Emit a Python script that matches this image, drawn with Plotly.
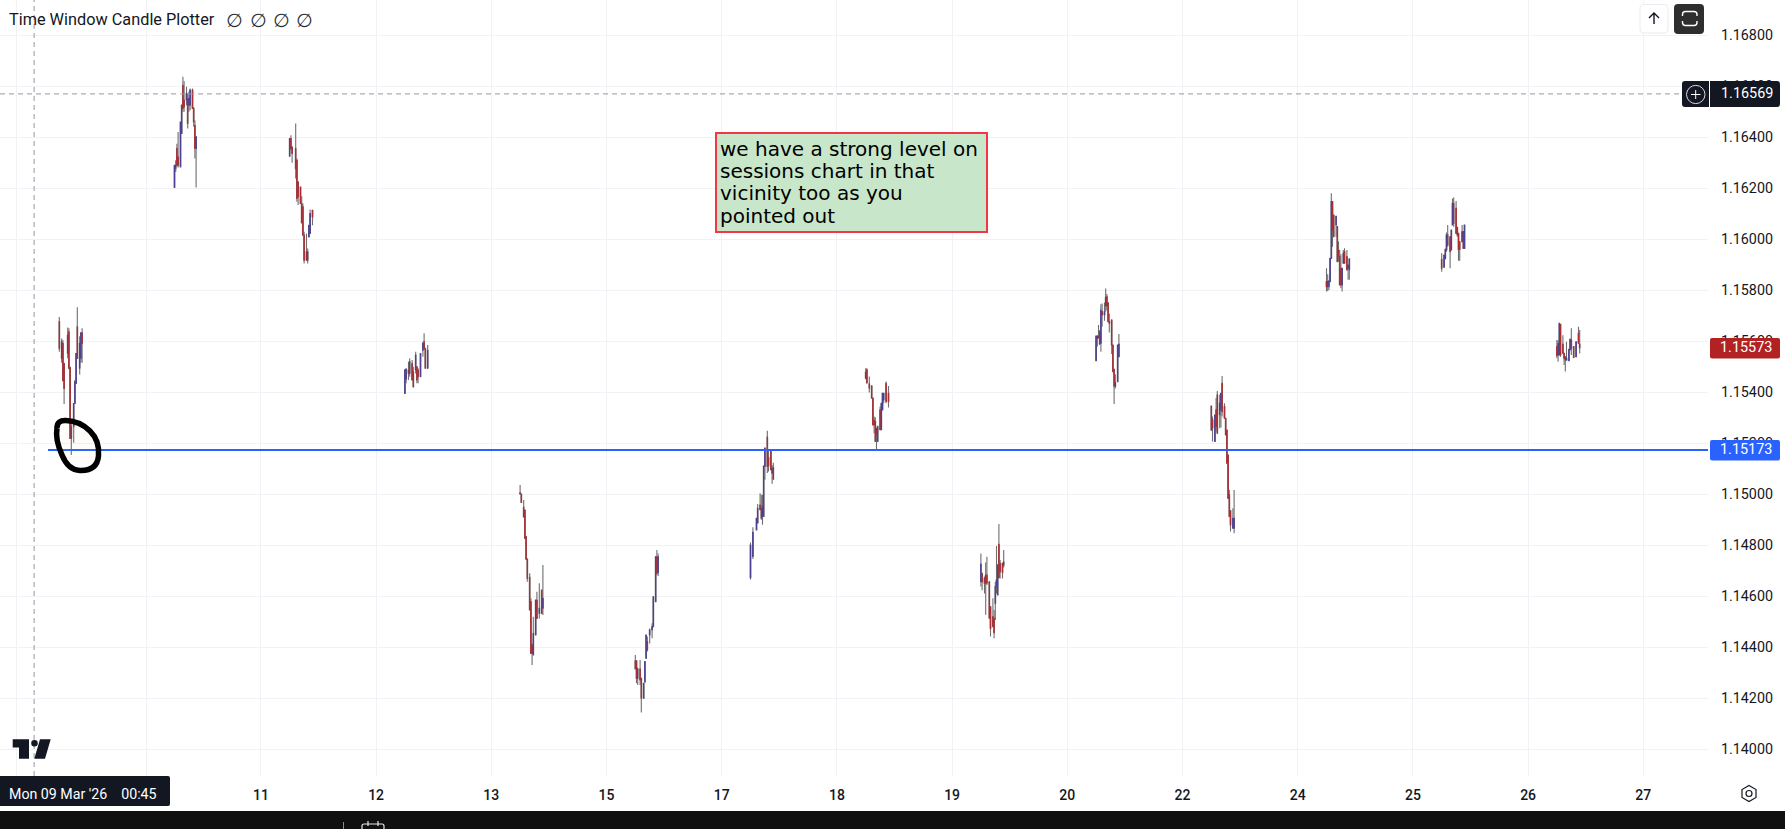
import plotly.graph_objects as go

# ---- session data (one list per field, per session); t = 15-minute bar inside the window
s01_t = [0, 2, 3, 4, 7, 8, 9, 10, 12, 13, 14, 15, 17, 18, 19]
s01_o = [1.15676, 1.15532, 1.15591, 1.15512, 1.15551, 1.15636, 1.15497, 1.15218, 1.15264, 1.15355, 1.15434, 1.15656, 1.15493, 1.15532, 1.15632]
s01_h = [1.15694, 1.15610, 1.15604, 1.15515, 1.15653, 1.15650, 1.15497, 1.15277, 1.15355, 1.15447, 1.15554, 1.15732, 1.15619, 1.15632, 1.15650]
s01_l = [1.15558, 1.15515, 1.15444, 1.15353, 1.15532, 1.15489, 1.15218, 1.15153, 1.15201, 1.15355, 1.15434, 1.15532, 1.15469, 1.15515, 1.15515]
s01_c = [1.15571, 1.15597, 1.15444, 1.15414, 1.15623, 1.15493, 1.15218, 1.15264, 1.15355, 1.15440, 1.15551, 1.15532, 1.15591, 1.15632, 1.15591]

s02_t = [0, 1, 2, 3, 5, 6, 7, 8, 10, 11, 12, 13, 15, 16, 17, 18]
s02_o = [1.16202, 1.16276, 1.16355, 1.16322, 1.16283, 1.16414, 1.16603, 1.16544, 1.16544, 1.16551, 1.16525, 1.16525, 1.16584, 1.16512, 1.16446, 1.16355]
s02_h = [1.16289, 1.16309, 1.16374, 1.16420, 1.16459, 1.16525, 1.16636, 1.16619, 1.16597, 1.16571, 1.16577, 1.16590, 1.16590, 1.16518, 1.16466, 1.16401]
s02_l = [1.16202, 1.16263, 1.16283, 1.16280, 1.16283, 1.16414, 1.16499, 1.16499, 1.16525, 1.16433, 1.16499, 1.16505, 1.16512, 1.16440, 1.16316, 1.16202]
s02_c = [1.16289, 1.16289, 1.16289, 1.16289, 1.16459, 1.16525, 1.16512, 1.16518, 1.16571, 1.16453, 1.16551, 1.16584, 1.16512, 1.16459, 1.16355, 1.16401]

s03_t = [0, 1, 2, 5, 6, 7, 9, 10, 11, 12, 14, 15, 16, 17, 19]
s03_o = [1.16325, 1.16394, 1.16361, 1.16355, 1.16309, 1.16224, 1.16204, 1.16139, 1.16126, 1.16015, 1.15950, 1.15917, 1.16008, 1.16022, 1.16113]
s03_h = [1.16394, 1.16407, 1.16361, 1.16453, 1.16316, 1.16224, 1.16204, 1.16168, 1.16139, 1.16028, 1.16022, 1.15963, 1.16054, 1.16116, 1.16113]
s03_l = [1.16325, 1.16348, 1.16299, 1.16237, 1.16146, 1.16133, 1.16139, 1.16063, 1.16015, 1.15904, 1.15917, 1.15904, 1.16008, 1.16022, 1.16054]
s03_c = [1.16394, 1.16355, 1.16335, 1.16276, 1.16159, 1.16165, 1.16139, 1.16063, 1.16015, 1.15917, 1.15917, 1.15950, 1.16054, 1.16100, 1.16086]

s04_t = [0, 1, 3, 4, 6, 7, 9, 10, 11, 13, 15, 16, 17, 19]
s04_o = [1.15394, 1.15450, 1.15486, 1.15473, 1.15512, 1.15479, 1.15486, 1.15499, 1.15486, 1.15460, 1.15564, 1.15597, 1.15571, 1.15493]
s04_h = [1.15490, 1.15493, 1.15519, 1.15532, 1.15525, 1.15499, 1.15558, 1.15499, 1.15493, 1.15551, 1.15597, 1.15630, 1.15571, 1.15584]
s04_l = [1.15394, 1.15434, 1.15447, 1.15460, 1.15447, 1.15420, 1.15473, 1.15434, 1.15434, 1.15460, 1.15538, 1.15564, 1.15493, 1.15493]
s04_c = [1.15486, 1.15490, 1.15473, 1.15519, 1.15447, 1.15420, 1.15545, 1.15447, 1.15460, 1.15551, 1.15590, 1.15571, 1.15493, 1.15564]

s05_t = [0, 1, 3, 4, 5, 6, 8, 9, 10, 11, 13, 14, 16, 18, 19]
s05_o = [1.15005, 1.15000, 1.14948, 1.14937, 1.14833, 1.14744, 1.14673, 1.14578, 1.14408, 1.14369, 1.14447, 1.14584, 1.14532, 1.14623, 1.14552]
s05_h = [1.15035, 1.15000, 1.14976, 1.14937, 1.14833, 1.14748, 1.14689, 1.14591, 1.14414, 1.14519, 1.14584, 1.14617, 1.14650, 1.14623, 1.14722]
s05_l = [1.15000, 1.14967, 1.14907, 1.14826, 1.14744, 1.14656, 1.14545, 1.14375, 1.14329, 1.14369, 1.14447, 1.14512, 1.14512, 1.14532, 1.14525]
s05_c = [1.15000, 1.14967, 1.14911, 1.14826, 1.14744, 1.14669, 1.14545, 1.14375, 1.14375, 1.14454, 1.14584, 1.14512, 1.14552, 1.14532, 1.14591]

s06_t = [0, 1, 2, 4, 5, 7, 8, 9, 10, 12, 14, 15, 17, 18, 19]
s06_o = [1.14346, 1.14346, 1.14277, 1.14314, 1.14277, 1.14199, 1.14264, 1.14356, 1.14421, 1.14447, 1.14467, 1.14480, 1.14578, 1.14754, 1.14692]
s06_h = [1.14369, 1.14346, 1.14320, 1.14349, 1.14277, 1.14258, 1.14343, 1.14447, 1.14441, 1.14473, 1.14493, 1.14597, 1.14754, 1.14780, 1.14767]
s06_l = [1.14314, 1.14258, 1.14251, 1.14251, 1.14143, 1.14199, 1.14258, 1.14356, 1.14382, 1.14414, 1.14434, 1.14480, 1.14578, 1.14682, 1.14678]
s06_c = [1.14314, 1.14277, 1.14314, 1.14271, 1.14199, 1.14258, 1.14343, 1.14447, 1.14388, 1.14467, 1.14480, 1.14597, 1.14754, 1.14689, 1.14754]

s07_t = [0, 2, 5, 6, 8, 9, 10, 11, 12, 14, 15, 17, 18, 19]
s07_o = [1.14672, 1.14755, 1.14859, 1.14886, 1.14957, 1.14944, 1.14912, 1.14912, 1.15108, 1.15223, 1.15143, 1.15167, 1.15082, 1.15105]
s07_h = [1.14810, 1.14870, 1.14905, 1.14961, 1.15003, 1.14997, 1.14997, 1.15110, 1.15180, 1.15248, 1.15173, 1.15167, 1.15114, 1.15123]
s07_l = [1.14665, 1.14745, 1.14859, 1.14886, 1.14938, 1.14899, 1.14879, 1.14912, 1.15056, 1.15082, 1.15088, 1.15095, 1.15040, 1.15058]
s07_c = [1.14800, 1.14850, 1.14905, 1.14944, 1.14938, 1.14905, 1.14951, 1.15110, 1.15180, 1.15108, 1.15110, 1.15095, 1.15101, 1.15058]

s08_t = [0, 1, 3, 5, 6, 7, 8, 9, 10, 12, 13, 14, 15, 17, 19]
s08_o = [1.15454, 1.15487, 1.15432, 1.15424, 1.15376, 1.15290, 1.15284, 1.15258, 1.15206, 1.15330, 1.15252, 1.15330, 1.15369, 1.15434, 1.15395]
s08_h = [1.15493, 1.15493, 1.15461, 1.15424, 1.15376, 1.15304, 1.15301, 1.15258, 1.15265, 1.15343, 1.15356, 1.15395, 1.15395, 1.15441, 1.15424]
s08_l = [1.15450, 1.15435, 1.15398, 1.15376, 1.15271, 1.15238, 1.15206, 1.15176, 1.15206, 1.15252, 1.15252, 1.15330, 1.15356, 1.15356, 1.15339]
s08_c = [1.15478, 1.15435, 1.15415, 1.15376, 1.15271, 1.15271, 1.15206, 1.15234, 1.15265, 1.15252, 1.15356, 1.15395, 1.15395, 1.15363, 1.15363]

s09_t = [0, 1, 3, 4, 5, 7, 8, 10, 11, 12, 13, 14, 15, 16, 18, 19]
s09_o = [1.14656, 1.14689, 1.14669, 1.14682, 1.14682, 1.14656, 1.14558, 1.14519, 1.14513, 1.14571, 1.14637, 1.14604, 1.14803, 1.14728, 1.14728, 1.14721]
s09_h = [1.14767, 1.14689, 1.14676, 1.14731, 1.14754, 1.14656, 1.14558, 1.14591, 1.14545, 1.14656, 1.14796, 1.14722, 1.14882, 1.14741, 1.14728, 1.14780]
s09_l = [1.14637, 1.14623, 1.14610, 1.14526, 1.14643, 1.14513, 1.14441, 1.14480, 1.14434, 1.14506, 1.14610, 1.14604, 1.14672, 1.14669, 1.14669, 1.14712]
s09_c = [1.14725, 1.14656, 1.14650, 1.14650, 1.14650, 1.14513, 1.14473, 1.14480, 1.14456, 1.14637, 1.14663, 1.14722, 1.14672, 1.14695, 1.14692, 1.14734]

s10_t = [0, 1, 2, 3, 4, 5, 7, 8, 9, 10, 11, 13, 14, 15, 16, 18, 19]
s10_o = [1.15523, 1.15610, 1.15619, 1.15636, 1.15591, 1.15715, 1.15702, 1.15737, 1.15774, 1.15750, 1.15676, 1.15682, 1.15584, 1.15489, 1.15423, 1.15440, 1.15538]
s10_h = [1.15621, 1.15623, 1.15663, 1.15643, 1.15744, 1.15747, 1.15751, 1.15806, 1.15784, 1.15750, 1.15708, 1.15685, 1.15584, 1.15489, 1.15470, 1.15584, 1.15627]
s10_l = [1.15523, 1.15578, 1.15610, 1.15584, 1.15558, 1.15656, 1.15679, 1.15715, 1.15721, 1.15676, 1.15633, 1.15549, 1.15480, 1.15353, 1.15414, 1.15440, 1.15538]
s10_c = [1.15619, 1.15619, 1.15612, 1.15588, 1.15721, 1.15702, 1.15715, 1.15771, 1.15737, 1.15676, 1.15669, 1.15584, 1.15480, 1.15423, 1.15437, 1.15584, 1.15588]

s11_t = [0, 1, 3, 4, 5, 7, 8, 9, 11, 12, 13, 14, 15, 16, 18, 19]
s11_o = [1.15345, 1.15291, 1.15206, 1.15330, 1.15389, 1.15310, 1.15330, 1.15434, 1.15343, 1.15297, 1.15251, 1.15153, 1.14997, 1.14934, 1.14866, 1.14866]
s11_h = [1.15345, 1.15304, 1.15310, 1.15376, 1.15404, 1.15389, 1.15395, 1.15463, 1.15356, 1.15297, 1.15251, 1.15153, 1.15016, 1.14934, 1.14944, 1.15016]
s11_l = [1.15247, 1.15206, 1.15206, 1.15245, 1.15238, 1.15258, 1.15261, 1.15304, 1.15297, 1.15232, 1.15121, 1.14983, 1.14912, 1.14853, 1.14866, 1.14846]
s11_c = [1.15251, 1.15258, 1.15310, 1.15264, 1.15238, 1.15356, 1.15395, 1.15323, 1.15297, 1.15232, 1.15121, 1.14983, 1.14912, 1.14879, 1.14905, 1.14905]

s12_t = [0, 1, 2, 3, 4, 5, 6, 8, 9, 10, 11, 12, 13, 14, 15, 17, 18, 19]
s12_o = [1.15833, 1.15813, 1.15813, 1.15833, 1.15924, 1.16147, 1.16094, 1.16055, 1.16049, 1.15957, 1.15931, 1.15885, 1.15820, 1.15905, 1.15951, 1.15931, 1.15885, 1.15879]
s12_h = [1.15885, 1.15862, 1.15839, 1.15924, 1.16179, 1.16147, 1.16094, 1.16092, 1.16049, 1.15990, 1.15957, 1.15940, 1.15885, 1.15957, 1.15964, 1.15957, 1.15898, 1.15922]
s12_l = [1.15794, 1.15796, 1.15800, 1.15833, 1.15924, 1.15970, 1.16009, 1.16009, 1.15911, 1.15911, 1.15820, 1.15807, 1.15794, 1.15905, 1.15905, 1.15879, 1.15840, 1.15840]
s12_c = [1.15813, 1.15833, 1.15835, 1.15924, 1.16147, 1.16036, 1.16009, 1.16088, 1.15911, 1.15931, 1.15820, 1.15820, 1.15885, 1.15944, 1.15905, 1.15879, 1.15898, 1.15922]

s13_t = [0, 2, 3, 4, 5, 7, 8, 9, 10, 12, 13, 14, 15, 17, 18, 19]
s13_o = [1.15920, 1.15889, 1.15924, 1.15957, 1.16016, 1.16009, 1.15957, 1.16055, 1.16140, 1.16120, 1.16046, 1.16022, 1.15989, 1.15989, 1.16029, 1.15963]
s13_h = [1.15944, 1.15937, 1.15963, 1.16025, 1.16055, 1.16009, 1.16035, 1.16159, 1.16163, 1.16149, 1.16048, 1.16022, 1.15989, 1.16055, 1.16029, 1.16055]
s13_l = [1.15872, 1.15889, 1.15920, 1.15950, 1.15970, 1.15885, 1.15957, 1.16055, 1.16048, 1.16022, 1.16009, 1.15915, 1.15915, 1.15989, 1.15963, 1.15963]
s13_c = [1.15885, 1.15937, 1.15959, 1.16016, 1.15976, 1.15950, 1.16035, 1.16140, 1.16061, 1.16022, 1.16016, 1.15959, 1.15959, 1.16029, 1.15963, 1.16055]

s14_t = [0, 1, 2, 3, 5, 6, 7, 8, 10, 11, 12, 14, 16, 18, 19]
s14_o = [1.15578, 1.15545, 1.15545, 1.15665, 1.15588, 1.15552, 1.15538, 1.15525, 1.15523, 1.15565, 1.15604, 1.15578, 1.15538, 1.15630, 1.15588]
s14_h = [1.15604, 1.15604, 1.15669, 1.15665, 1.15623, 1.15552, 1.15538, 1.15597, 1.15567, 1.15610, 1.15650, 1.15578, 1.15597, 1.15656, 1.15643]
s14_l = [1.15532, 1.15519, 1.15545, 1.15538, 1.15552, 1.15506, 1.15480, 1.15523, 1.15523, 1.15565, 1.15545, 1.15535, 1.15538, 1.15591, 1.15551]
s14_c = [1.15542, 1.15591, 1.15669, 1.15545, 1.15552, 1.15532, 1.15525, 1.15532, 1.15567, 1.15607, 1.15571, 1.15535, 1.15597, 1.15591, 1.15573]

BARS_PER_DAY = 96
x_tick_bars = [-36, 73, 168, 264, 360, 456, 552, 648, 744, 840, 936, 1032, 1128, 1224, 1320]
x_tick_text = ["", "", "11", "12", "13", "15", "17", "18", "19", "20", "22", "24", "25", "26", "27"]
y_ticks = [1.14 + 0.002 * i for i in range(15)]
level_blue = 1.15173
level_last = 1.15573
level_cross = 1.16569
cross_bar = -21
note_lines = ["we have a strong level on", "sessions chart in that", "vicinity too as you", "pointed out"]

INK = "#131722"
RED = "#b8232a"
BLUE = "#463a9e"
WICK = "#6e6e6e"
FONT = "Roboto"

W, H = 1785, 829
PW, PH = 1708, 776   # plot rectangle


def fx(x):
    return x / PW


def fy(y):
    return 1 - y / PH


def path(cmds):
    """cmds: list of (letter, x, y, ...) in screen pixels -> paper-space path"""
    out = []
    for c in cmds:
        nums = c[1:]
        pts = []
        for i in range(0, len(nums), 2):
            pts.append(f"{fx(nums[i]):.6f},{fy(nums[i + 1]):.6f}")
        out.append(c[0] + " ".join(pts))
    return " ".join(out)


def rrect(x0, y0, x1, y1, r):
    return path([("M", x0 + r, y0), ("L", x1 - r, y0), ("Q", x1, y0, x1, y0 + r), ("L", x1, y1 - r),
                 ("Q", x1, y1, x1 - r, y1), ("L", x0 + r, y1), ("Q", x0, y1, x0, y1 - r), ("L", x0, y0 + r),
                 ("Q", x0, y0, x0 + r, y0)]) + " Z"


sessions = [
    (s01_t, s01_o, s01_h, s01_l, s01_c), (s02_t, s02_o, s02_h, s02_l, s02_c),
    (s03_t, s03_o, s03_h, s03_l, s03_c), (s04_t, s04_o, s04_h, s04_l, s04_c),
    (s05_t, s05_o, s05_h, s05_l, s05_c), (s06_t, s06_o, s06_h, s06_l, s06_c),
    (s07_t, s07_o, s07_h, s07_l, s07_c), (s08_t, s08_o, s08_h, s08_l, s08_c),
    (s09_t, s09_o, s09_h, s09_l, s09_c), (s10_t, s10_o, s10_h, s10_l, s10_c),
    (s11_t, s11_o, s11_h, s11_l, s11_c), (s12_t, s12_o, s12_h, s12_l, s12_c),
    (s13_t, s13_o, s13_h, s13_l, s13_c), (s14_t, s14_o, s14_h, s14_l, s14_c),
]
xs, os_, hs, ls, cs = [], [], [], [], []
for k, (t, o, h, l, c) in enumerate(sessions):
    xs += [BARS_PER_DAY * k + v for v in t]
    os_ += o
    hs += h
    ls += l
    cs += c

fig = go.Figure()
# full range in grey, then the open-close stretch in red/blue on top
fig.add_trace(go.Candlestick(
    x=xs, open=os_, high=hs, low=ls, close=cs, whiskerwidth=0, hoverinfo="skip", showlegend=False,
    increasing=dict(line=dict(color=WICK, width=1.1), fillcolor=WICK),
    decreasing=dict(line=dict(color=WICK, width=1.1), fillcolor=WICK)))
fig.add_trace(go.Candlestick(
    x=xs, open=os_, close=cs, high=[max(a, b) for a, b in zip(os_, cs)], low=[min(a, b) for a, b in zip(os_, cs)],
    whiskerwidth=0, hoverinfo="skip", showlegend=False,
    increasing=dict(line=dict(color=BLUE, width=0.5), fillcolor=BLUE),
    decreasing=dict(line=dict(color=RED, width=0.5), fillcolor=RED)))

shapes = []


def sh(**kw):
    kw.setdefault("xref", "paper")
    kw.setdefault("yref", "paper")
    kw.setdefault("layer", "above")
    shapes.append(kw)


def p(d, fill=None, line=None, lw=0):
    sh(type="path", path=d, fillcolor=fill or "rgba(0,0,0,0)", line=dict(color=line or "rgba(0,0,0,0)", width=lw))


# crosshair + levels
sh(type="line", xref="x", x0=cross_bar, x1=cross_bar, y0=0, y1=1, line=dict(color="#9598a1", width=1, dash="5px,4px"))
sh(type="line", yref="y", x0=0, x1=fx(1682), y0=level_cross, y1=level_cross, line=dict(color="#9598a1", width=1, dash="5px,4px"))
sh(type="line", yref="y", x0=fx(48), x1=1, y0=level_blue, y1=level_blue, line=dict(color="#2962ff", width=2))

# hand-drawn circle
p(path([("M", 57, 428), ("Q", 57, 420, 66, 420.5), ("Q", 80, 421, 90, 431), ("Q", 100, 441, 98.5, 456),
        ("Q", 97, 471, 80, 470.5), ("Q", 68, 470, 62, 455), ("Q", 55, 440, 57, 428)]),
  fill="rgba(255,200,100,0.04)", line="#000000", lw=5.5)

# note box
p(path([("M", 716, 133), ("L", 987, 133), ("L", 987, 232), ("L", 716, 232)]) + " Z", fill="#c8e6c9", line="#f23645", lw=2)

# logo
p(path([("M", 12.7, 739.3), ("L", 29, 739.3), ("L", 29, 758.7), ("L", 19, 758.7), ("L", 19, 747.6), ("L", 12.7, 747.6)]) + " Z", fill=INK)
sh(type="circle", x0=fx(31.2), x1=fx(37.8), y0=fy(746.5), y1=fy(739.9), fillcolor=INK, line=dict(width=0))
p(path([("M", 40, 739.3), ("L", 50.7, 739.3), ("L", 45, 758.7), ("L", 34.3, 758.7)]) + " Z", fill=INK)

# top-right buttons
p(rrect(1640, 4.5, 1668, 33, 4), fill="#ffffff", line="#e9ebf0", lw=1)
p(path([("M", 1654, 24), ("L", 1654, 13), ("M", 1649, 18), ("L", 1654, 13), ("L", 1659, 18)]), line=INK, lw=1.4)
p(rrect(1674, 4, 1704, 34, 4), fill="#2e2e2e")
p(path([("M", 1682.5, 16), ("L", 1682.5, 14.5), ("Q", 1682.5, 11.5, 1685.5, 11.5), ("L", 1694, 11.5), ("Q", 1697, 11.5, 1697, 14.5), ("L", 1697, 16)]), line="#ffffff", lw=1.4)
p(path([("M", 1682.5, 21), ("L", 1682.5, 22.5), ("Q", 1682.5, 25.5, 1685.5, 25.5), ("L", 1694, 25.5), ("Q", 1697, 25.5, 1697, 22.5), ("L", 1697, 21)]), line="#ffffff", lw=1.4)

# price tags
p(rrect(1682, 81, 1780, 107, 3), fill=INK)
sh(type="line", x0=fx(1709.5), x1=fx(1709.5), y0=fy(81), y1=fy(107), line=dict(color="#ffffff", width=1))
sh(type="circle", x0=fx(1686.5), x1=fx(1705), y0=fy(103.6), y1=fy(85.4), line=dict(color="#d8d8dc", width=1))
p(path([("M", 1691, 94.5), ("L", 1700.5, 94.5), ("M", 1695.7, 90), ("L", 1695.7, 99)]), line="#ffffff", lw=1)
p(rrect(1710, 338, 1780, 358.5, 2), fill="#b22222")
p(rrect(1710, 440, 1780, 460.5, 2), fill="#2962ff")

# time tag + bottom bar
p(rrect(-3, 776, 170, 806, 2), fill=INK)
sh(type="rect", x0=0, x1=fx(W), y0=fy(811), y1=fy(829), fillcolor="#101010", line=dict(width=0))
sh(type="line", x0=fx(343.5), x1=fx(343.5), y0=fy(822), y1=fy(829), line=dict(color="#8a8a8a", width=1))
p(path([("M", 362, 829), ("L", 362, 826), ("Q", 362, 824, 364, 824), ("L", 382, 824), ("Q", 384, 824, 384, 826), ("L", 384, 829),
        ("M", 368, 821), ("L", 368, 826), ("M", 378, 821), ("L", 378, 826)]), line="#e8e8e8", lw=1.2)

# settings hexagon
p(path([("M", 1749, 785.5), ("L", 1756, 789.5), ("L", 1756, 797.5), ("L", 1749, 801.5), ("L", 1742, 797.5), ("L", 1742, 789.5)]) + " Z", line=INK, lw=1.2)
sh(type="circle", x0=fx(1746), x1=fx(1752), y0=fy(796.5), y1=fy(790.5), line=dict(color=INK, width=1.2))

annotations = []


def ann(text, x, y, size=14, color=INK, family=FONT, anchor="left", yref="paper", weight=None):
    annotations.append(dict(
        text=text, x=fx(x), y=y if yref != "paper" else fy(y), xref="paper", yref=yref, showarrow=False,
        xanchor=anchor, yanchor="middle", xshift=0, yshift=0, align="left", borderpad=0,
        font=dict(size=size, color=color, family=family, weight=weight)))


ann("Time Window Candle Plotter", 8, 19.5, size=16.3, family="Roboto")
for gx in (235, 258, 281, 304):
    ann("\u2205", gx, 20, size=19, anchor="center", color="#2a2e39", family="DejaVu Sans")
for i, line in enumerate(note_lines):
    ann(line, 719, 148.5 + 22.4 * i, size=20, color="#000000", family="DejaVu Sans")
ann(f"{level_cross:.5f}", 1746.5, level_cross, size=14.4, color="#ffffff", anchor="center", yref="y")
ann(f"{level_last:.5f}", 1745.5, level_last, size=14.4, color="#ffffff", anchor="center", yref="y")
ann(f"{level_blue:.5f}", 1745.5, level_blue, size=14.4, color="#ffffff", anchor="center", yref="y")
ann("Mon 09 Mar '26&nbsp;&nbsp;&nbsp;&nbsp;00:45", 8, 794, size=14.2, color="#ffffff")

BAR_PX = 1.2
fig.update_layout(
    width=W, height=H, autosize=False, margin=dict(l=0, r=W - PW, t=0, b=H - PH, pad=0),
    paper_bgcolor="#ffffff", plot_bgcolor="#ffffff", showlegend=False, hovermode=False, dragmode=False,
    shapes=shapes, annotations=annotations,
    xaxis=dict(range=[-59.3 / BAR_PX, (PW - 59.3) / BAR_PX], rangeslider=dict(visible=False), tickmode="array",
               tickvals=x_tick_bars, ticktext=x_tick_text, showgrid=True, gridcolor="#f1f2f5", gridwidth=1,
               zeroline=False, showline=False, ticks="", ticklabelstandoff=9,
               tickfont=dict(family=FONT, size=14, color=INK, weight=500), fixedrange=True),
    yaxis=dict(side="right", range=[1.168 - (PH - 35) / 25500, 1.168 + 35 / 25500], tickmode="array",
               tickvals=y_ticks, ticktext=[f"{v:.5f}" for v in y_ticks], showgrid=True, gridcolor="#f1f2f5", gridwidth=1,
               zeroline=False, showline=False, ticks="", ticklabelstandoff=12,
               tickfont=dict(family=FONT, size=14.3, color=INK), fixedrange=True),
)
fig.write_html("out.html", config=dict(displayModeBar=False, staticPlot=True),
               post_script="document.body.style.margin='0';document.body.style.overflow='hidden';")
